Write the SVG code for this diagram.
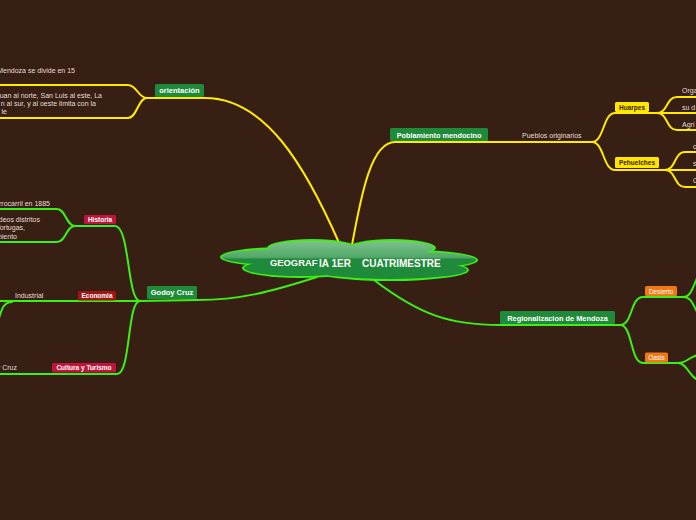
<svg xmlns="http://www.w3.org/2000/svg" width="696" height="520" viewBox="0 0 696 520">
<defs>
<linearGradient id="cg" x1="0" y1="240" x2="0" y2="281" gradientUnits="userSpaceOnUse">
<stop offset="0" stop-color="#80c48e"/>
<stop offset="0.42" stop-color="#52a868"/>
<stop offset="0.47" stop-color="#1f8a3a"/>
<stop offset="1" stop-color="#1f8a3a"/>
</linearGradient>
<style>
.y{fill:none;stroke:#ffea00;stroke-width:2;stroke-linecap:round}
.g{fill:none;stroke:#3cf014;stroke-width:2;stroke-linecap:round}
.t{font-family:"Liberation Sans",Arial,sans-serif}
.lb{font-family:"Liberation Sans",Arial,sans-serif;font-weight:bold;fill:#ffffff;text-anchor:middle}
.ch{font-family:"Liberation Sans",Arial,sans-serif;font-size:7px;fill:#e6ddd4}
.gb{fill:#1f8a3a}
.rb{fill:#c0143c}
.db{fill:#a01414}
.ob{fill:#f07814}
.yb{fill:#ffe600}
</style>
</defs>
<rect width="696" height="520" fill="#371f14"/>

<g id="connectors">
<path class="y" d="M340,245 C305,165 265,98 205,98 L147,98"/>
<path class="y" d="M147,98 C138,98 137,85 128,85 H-5"/>
<path class="y" d="M147,98 C138,98 137,118 128,118 H-5"/>
<path class="y" d="M352,245 C362,190 372,142 395,142 L592,142"/>
<path class="y" d="M592,142 C604,142 603,113 615,113 L657,113"/>
<path class="y" d="M592,142 C604,142 603,170 615,170 L665,170"/>
<path class="y" d="M657,113 C668,113 666,97 677,97 H700"/>
<path class="y" d="M657,113 H700"/>
<path class="y" d="M657,113 C668,113 666,130 677,130 H700"/>
<path class="y" d="M665,170 C676,170 674,152 685,152 H700"/>
<path class="y" d="M665,170 H700"/>
<path class="y" d="M665,170 C676,170 674,187 685,187 H700"/>

<path class="g" d="M317,277 C270,292 240,300 197,300 L140,301"/>
<path class="g" d="M140,301 C127,301 130,226 115,226 H75"/>
<path class="g" d="M75,226 C66,226 66,209 57,209 H-5"/>
<path class="g" d="M75,226 C66,226 66,242 57,242 H-5"/>
<path class="g" d="M140,301 H-5"/>
<path class="g" d="M12,302 C4,302 2,308 -1,318"/>
<path class="g" d="M140,301 C127,301 131,374 117,374 H-5"/>
<path class="g" d="M374,280 C420,315 450,325 500,325 L620,325"/>
<path class="g" d="M620,325 C633,325 630,297 643,297 H683"/>
<path class="g" d="M683,297 C692,297 693,285 700,272"/>
<path class="g" d="M683,297 C692,297 693,305 700,318"/>
<path class="g" d="M620,325 C633,325 630,363 643,363 H678"/>
<path class="g" d="M678,363 C688,363 690,355 700,355"/>
<path class="g" d="M678,363 C688,363 690,380 700,380"/>
</g>

<g id="center">
<g fill="#3cf014">
<ellipse cx="285" cy="257" rx="65" ry="10"/>
<ellipse cx="312" cy="248" rx="45" ry="9"/>
<ellipse cx="392" cy="248" rx="44" ry="9"/>
<ellipse cx="412" cy="260" rx="66" ry="10"/>
<ellipse cx="300" cy="268" rx="58" ry="10"/>
<ellipse cx="390" cy="270" rx="79" ry="11"/>
</g>
<g fill="url(#cg)">
<ellipse cx="285" cy="257" rx="63" ry="8"/>
<ellipse cx="312" cy="248" rx="43" ry="7"/>
<ellipse cx="392" cy="248" rx="42" ry="7"/>
<ellipse cx="412" cy="260" rx="64" ry="8"/>
<ellipse cx="300" cy="268" rx="56" ry="8"/>
<ellipse cx="390" cy="270" rx="77" ry="9"/>
<ellipse cx="352" cy="256" rx="45" ry="10"/>
</g>
<text class="t" x="270" y="266" font-size="9.4" font-weight="bold" fill="#ffffff">GEOGRAF</text>
<text class="t" x="319" y="267" font-size="10" font-weight="bold" fill="#ffffff" xml:space="preserve">IA 1ER    CUATRIMESTRE</text>
</g>

<g id="orientacion">
<rect class="gb" x="155" y="84" width="49" height="13" rx="1.5"/>
<text class="lb" x="179.5" y="93.3" font-size="7.5">orientación</text>
<text class="ch" x="75" y="73" text-anchor="end">Mendoza se divide en 15</text>
<text class="ch" x="102" y="97.5" text-anchor="end">Juan al norte, San Luis al este, La</text>
<text class="ch" x="96" y="105.8" text-anchor="end">n al sur, y al oeste limita con la</text>
<text class="ch" x="7" y="114" text-anchor="end">le</text>
</g>

<g id="poblamiento">
<rect class="gb" x="390" y="128" width="98" height="13" rx="1.5"/>
<text class="lb" x="439" y="137.5" font-size="7.3">Poblamiento mendocino</text>
<text class="ch" x="522" y="138" font-size="6.8">Pueblos originarios</text>
</g>

<g id="huarpes">
<rect class="yb" x="615" y="102" width="34" height="10" rx="1.5"/>
<text class="t" x="632" y="109.6" font-size="6.5" font-weight="bold" fill="#3a2010" text-anchor="middle">Huarpes</text>
<text class="ch" x="682" y="93">Orga</text>
<text class="ch" x="682" y="110">su d</text>
<text class="ch" x="682" y="127">Agri</text>
</g>

<g id="pehuelches">
<rect class="yb" x="615" y="157" width="44" height="11" rx="1.5"/>
<text class="t" x="637" y="165" font-size="6.5" font-weight="bold" fill="#3a2010" text-anchor="middle">Pehuelches</text>
<text class="ch" x="693" y="149">c</text>
<text class="ch" x="693" y="166">s</text>
<text class="ch" x="693" y="183">C</text>
</g>

<g id="regionalizacion">
<rect class="gb" x="500" y="311" width="115" height="13" rx="1.5"/>
<text class="lb" x="557.5" y="320.7" font-size="7.4">Regionalizacion de Mendoza</text>
</g>

<g id="desierto">
<rect class="ob" x="645" y="286" width="32" height="10" rx="1.5"/>
<text class="t" x="661" y="293.6" font-size="6.5" fill="#ffffff" text-anchor="middle">Desierto</text>
</g>

<g id="oasis">
<rect class="ob" x="645" y="352.5" width="23" height="10" rx="1.5"/>
<text class="t" x="656.5" y="360" font-size="6.5" fill="#ffffff" text-anchor="middle">Oasis</text>
</g>

<g id="godoy">
<rect class="gb" x="147" y="286" width="50" height="13" rx="1.5"/>
<text class="lb" x="172" y="295.3" font-size="7.5">Godoy Cruz</text>
</g>

<g id="historia">
<rect class="rb" x="84" y="215" width="32" height="9" rx="1.5"/>
<text class="lb" x="100" y="221.7" font-size="6.5">Historia</text>
<text class="ch" x="50" y="205.5" text-anchor="end">rrocarril en 1885</text>
<text class="ch" x="40" y="222" text-anchor="end">deos distritos</text>
<text class="ch" x="25" y="230.2" text-anchor="end">Tortugas,</text>
<text class="ch" x="17" y="238.5" text-anchor="end">niento</text>
</g>

<g id="economia">
<rect class="db" x="78" y="291" width="38" height="9.5" rx="1.5"/>
<text class="lb" x="97" y="298" font-size="6.5">Economia</text>
<text class="ch" x="15" y="297.5">Industrial</text>
</g>

<g id="cultura">
<rect class="rb" x="52" y="363" width="64" height="9.5" rx="1.5"/>
<text class="lb" x="84" y="370" font-size="6.5">Cultura y Turismo</text>
<text class="ch" x="17" y="369.8" text-anchor="end">y Cruz</text>
</g>
</svg>
